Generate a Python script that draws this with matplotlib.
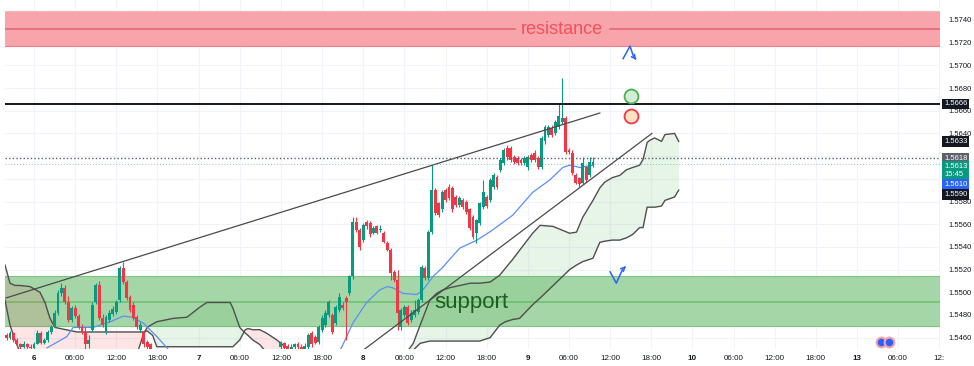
import numpy as np
import matplotlib.pyplot as plt
import matplotlib.transforms as mtransforms

plt.rcParams['font.family'] = ['Liberation Sans', 'DejaVu Sans']

nan = np.nan

# 30 min candles, hours counted from day 6 00:00 (weekend removed from the axis)
candle_t = np.arange(-4.0, 82.0, 0.5)

# day 6 (t -4 .. 17)
open_a = [1.5462, 1.5460, 1.5464, 1.5458, 1.5454, 1.5452, 1.5454, 1.5452,
          1.5451, 1.5454, 1.5464, 1.5455, 1.5458, 1.5465, 1.5469, 1.5482,
          1.5499, 1.5504, 1.5491, 1.5476, 1.5486, 1.5479, 1.5469, 1.5465,
          1.5454, 1.5467, 1.5491, 1.5506, 1.5477, 1.5465, 1.5476, 1.5481,
          1.5483, 1.5493, 1.5521, 1.5509, 1.5496, 1.5489, 1.5478, 1.5467,
          1.5465, 1.5456, 1.5454]
high_a = [1.5464, 1.5466, 1.5465, 1.5460, 1.5455, 1.5457, 1.5455, 1.5454,
          1.5456, 1.5467, 1.5466, 1.5460, 1.5467, 1.5471, 1.5484, 1.5502,
          1.5508, 1.5506, 1.5497, 1.5488, 1.5489, 1.5481, 1.5472, 1.5469,
          1.5462, 1.5491, 1.5508, 1.5510, 1.5481, 1.5480, 1.5484, 1.5488,
          1.5493, 1.5523, 1.5527, 1.5511, 1.5498, 1.5491, 1.5480, 1.5474,
          1.5467, 1.5458, 1.5455]
low_a = [1.5458, 1.5459, 1.5456, 1.5452, 1.5449, 1.5451, 1.5450, 1.5449,
         1.5450, 1.5454, 1.5454, 1.5454, 1.5456, 1.5463, 1.5469, 1.5480,
         1.5497, 1.5490, 1.5474, 1.5474, 1.5477, 1.5468, 1.5463, 1.5449,
         1.5451, 1.5465, 1.5490, 1.5476, 1.5469, 1.5463, 1.5474, 1.5479,
         1.5481, 1.5491, 1.5507, 1.5493, 1.5483, 1.5476, 1.5468, 1.5465,
         1.5452, 1.5449, 1.5446]
close_a = [1.5460, 1.5464, 1.5458, 1.5454, 1.5452, 1.5454, 1.5452, 1.5451,
           1.5454, 1.5464, 1.5455, 1.5458, 1.5465, 1.5469, 1.5482, 1.5499,
           1.5504, 1.5491, 1.5476, 1.5486, 1.5479, 1.5469, 1.5465, 1.5454,
           1.5458, 1.5489, 1.5506, 1.5477, 1.5471, 1.5478, 1.5482, 1.5485,
           1.5491, 1.5521, 1.5509, 1.5495, 1.5484, 1.5477, 1.5469, 1.5471,
           1.5454, 1.5452, 1.5449]

# day 7 trades below the visible range (t 17.5 .. 35.5)
gap = [nan] * 37

# late day 7 to day 9 (t 36 .. 81.5)
open_c = [1.5452, 1.5455, 1.5453, 1.5450, 1.5452, 1.5454, 1.5452, 1.5450,
          1.5452, 1.5464, 1.5461, 1.5456, 1.5467, 1.5471, 1.5480, 1.5480,
          1.5473, 1.5484, 1.5489, 1.5495, 1.5499, 1.5514, 1.5562, 1.5555,
          1.5546, 1.5562, 1.5561, 1.5552, 1.5558, 1.5555, 1.5552, 1.5543,
          1.5537, 1.5518, 1.5511, 1.5469, 1.5480, 1.5487, 1.5476, 1.5480,
          1.5483, 1.5493, 1.5521, 1.5513, 1.5553, 1.5590, 1.5579, 1.5573,
          1.5590, 1.5593, 1.5592, 1.5584, 1.5577, 1.5581, 1.5580, 1.5573,
          1.5566, 1.5552, 1.5561, 1.5575, 1.5584, 1.5581, 1.5593, 1.5602,
          1.5608, 1.5614, 1.5627, 1.5627, 1.5619, 1.5618, 1.5617, 1.5614,
          1.5610, 1.5621, 1.5623, 1.5618, 1.5610, 1.5633, 1.5639, 1.5645,
          1.5640, 1.5646, 1.5650, 1.5654, 1.5625, 1.5623, 1.5603, 1.5601,
          1.5596, 1.5610, 1.5603, 1.5612]
high_c = [1.5457, 1.5456, 1.5454, 1.5454, 1.5455, 1.5456, 1.5454, 1.5455,
          1.5464, 1.5466, 1.5462, 1.5471, 1.5480, 1.5484, 1.5493, 1.5482,
          1.5489, 1.5499, 1.5491, 1.5497, 1.5515, 1.5566, 1.5566, 1.5557,
          1.5561, 1.5564, 1.5563, 1.5558, 1.5559, 1.5559, 1.5554, 1.5545,
          1.5539, 1.5520, 1.5520, 1.5486, 1.5489, 1.5489, 1.5484, 1.5493,
          1.5495, 1.5524, 1.5523, 1.5555, 1.5612, 1.5592, 1.5580, 1.5590,
          1.5592, 1.5595, 1.5594, 1.5586, 1.5585, 1.5583, 1.5581, 1.5574,
          1.5568, 1.5565, 1.5580, 1.5599, 1.5586, 1.5601, 1.5605, 1.5603,
          1.5618, 1.5627, 1.5630, 1.5629, 1.5621, 1.5620, 1.5618, 1.5620,
          1.5621, 1.5623, 1.5625, 1.5620, 1.5638, 1.5647, 1.5647, 1.5647,
          1.5652, 1.5667, 1.5689, 1.5655, 1.5627, 1.5625, 1.5605, 1.5602,
          1.5619, 1.5611, 1.5619, 1.5619]
low_c = [1.5450, 1.5449, 1.5447, 1.5448, 1.5450, 1.5449, 1.5447, 1.5448,
         1.5450, 1.5452, 1.5454, 1.5454, 1.5465, 1.5469, 1.5478, 1.5463,
         1.5471, 1.5483, 1.5484, 1.5458, 1.5498, 1.5512, 1.5553, 1.5537,
         1.5544, 1.5556, 1.5549, 1.5551, 1.5551, 1.5553, 1.5543, 1.5536,
         1.5511, 1.5509, 1.5467, 1.5467, 1.5478, 1.5471, 1.5474, 1.5478,
         1.5481, 1.5491, 1.5511, 1.5511, 1.5551, 1.5568, 1.5566, 1.5571,
         1.5580, 1.5581, 1.5571, 1.5575, 1.5575, 1.5573, 1.5569, 1.5555,
         1.5547, 1.5543, 1.5559, 1.5573, 1.5574, 1.5580, 1.5591, 1.5591,
         1.5606, 1.5612, 1.5617, 1.5615, 1.5613, 1.5612, 1.5612, 1.5612,
         1.5608, 1.5615, 1.5615, 1.5609, 1.5609, 1.5631, 1.5637, 1.5637,
         1.5639, 1.5644, 1.5648, 1.5622, 1.5622, 1.5603, 1.5595, 1.5593,
         1.5595, 1.5597, 1.5602, 1.5610]
close_c = [1.5455, 1.5451, 1.5449, 1.5452, 1.5454, 1.5452, 1.5450, 1.5453,
           1.5462, 1.5454, 1.5455, 1.5469, 1.5477, 1.5482, 1.5491, 1.5465,
           1.5487, 1.5496, 1.5486, 1.5491, 1.5514, 1.5562, 1.5555, 1.5540,
           1.5559, 1.5558, 1.5551, 1.5557, 1.5552, 1.5556, 1.5544, 1.5537,
           1.5517, 1.5511, 1.5482, 1.5484, 1.5487, 1.5473, 1.5482, 1.5484,
           1.5493, 1.5522, 1.5513, 1.5553, 1.5590, 1.5570, 1.5568, 1.5588,
           1.5581, 1.5583, 1.5573, 1.5577, 1.5583, 1.5575, 1.5571, 1.5557,
           1.5549, 1.5564, 1.5579, 1.5588, 1.5576, 1.5599, 1.5603, 1.5593,
           1.5617, 1.5625, 1.5619, 1.5617, 1.5615, 1.5614, 1.5614, 1.5618,
           1.5619, 1.5617, 1.5617, 1.5610, 1.5636, 1.5646, 1.5646, 1.5639,
           1.5650, 1.5655, 1.5654, 1.5624, 1.5624, 1.5605, 1.5596, 1.5595,
           1.5614, 1.5599, 1.5615, 1.5615]

opens = np.array(open_a + gap + open_c)
highs = np.array(high_a + gap + high_c)
lows = np.array(low_a + gap + low_c)
closes = np.array(close_a + gap + close_c)

# blue moving average
ma_t = [1.9, 4.8, 5.7, 8.6, 11.1, 13.0, 14.3, 15.9, 17.9, 19.4, 21.0, 43.5,
        44.9, 46.5, 48.5, 50.4, 51.5, 52.3, 53.8, 55.8, 56.7, 58.2, 59.6, 60.6,
        62.1, 64.6, 66.9, 69.8, 72.7, 75.2, 77.1, 78.1, 79.6, 81.5]
ma_p = [1.5451, 1.5461, 1.5469, 1.5469, 1.5474, 1.5479, 1.5478, 1.5473,
        1.5461, 1.5451, 1.5438, 1.5438, 1.5452, 1.5473, 1.5491, 1.5502,
        1.5505, 1.5504, 1.5499, 1.5498, 1.5502, 1.5514, 1.5522, 1.5529,
        1.5539, 1.5546, 1.5555, 1.5568, 1.5588, 1.5599, 1.5610, 1.5612,
        1.5610, 1.5612]

# ichimoku cloud, left part
lc_t = [-4.23, -3.5, -2.77, -2.04, -0.58, 0.87, 1.6, 2.33, 3.06, 6.27, 14.0,
        15.0, 15.9, 16.5, 17.3, 17.9, 20.3, 22.3, 24.2, 25.2, 28.6, 29.0,
        30.0, 30.8, 31.2, 31.9, 32.9, 33.9, 35.4, 36.6]
lc_a = [1.5493, 1.5471, 1.5458, 1.5447, 1.5440, 1.5436, 1.5436, 1.5436,
        1.5436, 1.5436, 1.5436, 1.5445, 1.5462, 1.5469, 1.5472, 1.5474,
        1.5477, 1.5478, 1.5487, 1.5491, 1.5491, 1.5486, 1.5469, 1.5464,
        1.5462, 1.5458, 1.5454, 1.5447, 1.5440, 1.5436]
lc_b = [1.5524, 1.5508, 1.5506, 1.5506, 1.5505, 1.5500, 1.5491, 1.5477,
        1.5469, 1.5465, 1.5465, 1.5465, 1.5465, 1.5466, 1.5462, 1.5452,
        1.5452, 1.5452, 1.5452, 1.5452, 1.5452, 1.5452, 1.5458, 1.5467,
        1.5468, 1.5467, 1.5467, 1.5464, 1.5458, 1.5452]

# ichimoku cloud, right part
rc_t = [54.1, 55.3, 56.3, 57.7, 58.7, 59.6, 60.6, 62.1, 63.6, 65.0,
        66.5, 67.9, 68.7, 69.8, 70.8, 72.7, 73.8, 75.7, 78.1, 79.1,
        80.0, 81.5, 82.5, 83.2, 84.3, 85.4, 86.4, 87.3, 88.3, 88.8,
        89.4, 89.8, 90.5, 91.5, 92.0, 93.4, 94.0]
rc_a = [1.5445, 1.5455, 1.5471, 1.5493, 1.5499, 1.5502, 1.5504, 1.5506, 1.5508, 1.5508,
        1.5509, 1.5515, 1.5521, 1.5529, 1.5537, 1.5552, 1.5559, 1.5558, 1.5552, 1.5553,
        1.5566, 1.5581, 1.5592, 1.5597, 1.5601, 1.5603, 1.5608, 1.5610, 1.5612, 1.5617,
        1.5632, 1.5634, 1.5636, 1.5633, 1.5639, 1.5640, 1.5633]
rc_b = [1.5440, 1.5449, 1.5455, 1.5457, 1.5457, 1.5457, 1.5457, 1.5457, 1.5457, 1.5457,
        1.5460, 1.5471, 1.5474, 1.5476, 1.5477, 1.5489, 1.5495, 1.5506, 1.5520, 1.5524,
        1.5527, 1.5530, 1.5544, 1.5545, 1.5546, 1.5546, 1.5548, 1.5551, 1.5557, 1.5557,
        1.5575, 1.5575, 1.5575, 1.5576, 1.5581, 1.5584, 1.5590]

# trend lines (t, price)
upper_trend = ([-4.08, 82.5], [1.5495, 1.5658])
lower_trend = ([48.0, 90.1], [1.5449, 1.5640])

resistance = (1.5717, 1.5748, 1.5732)
support = (1.5470, 1.5514, 1.5491)
level_line = 1.5666
last_close_line = 1.5618
current_line = 1.5613

# price axis
price_ticks = [1.5460, 1.5480, 1.5500, 1.5520, 1.5540, 1.5560, 1.5580, 1.5600,
               1.5620, 1.5640, 1.5660, 1.5680, 1.5700, 1.5720, 1.5740]
hidden_ticks = [1.5600, 1.5620]   # covered by the price tags
time_ticks = [0, 6, 12, 18, 24, 30, 36, 42, 48, 54, 60, 66, 72, 78, 84, 90,
              96, 102, 108, 114, 120, 126, 132]
time_labels = ['6', '06:00', '12:00', '18:00', '7', '06:00', '12:00', '18:00',
               '8', '06:00', '12:00', '18:00', '9', '06:00', '12:00', '18:00',
               '10', '06:00', '12:00', '18:00', '13', '06:00', '12:']
# price tags on the scale: text, placement, colour
tags = [('1.5666', 1.5666, '#131722'), ('1.5633', 1.5633, '#131722'),
        ('1.5618', 1.5618, '#5d606b'), ('1.5613\n15:45', 1.56075, '#089981'),
        ('1.5610', 1.5595, '#2962ff'), ('1.5590', 1.5586, '#131722')]

UP = '#089981'
DOWN = '#f23645'

fig = plt.figure(figsize=(9.74, 3.66), dpi=100)
ax = fig.add_axes([5 / 974, 17 / 366, 935 / 974, 349 / 366])
ax.set_xlim(-4.23, 132.1)
ax.set_ylim(1.5450, 1.57576)

ax.set_axisbelow(True)
ax.grid(color='#f0f3fa', lw=0.8)
for s in ax.spines.values():
    s.set_visible(False)

# zones
ax.axhspan(resistance[0], resistance[1], color='#f7a4ab', lw=0, zorder=1)
ax.axhline(resistance[0], color='#f07e88', lw=0.8, zorder=1.1)
ax.axhline(resistance[1], color='#f7b7bc', lw=0.8, zorder=1.1)
ax.plot([-4.23, 70.1], [resistance[2]] * 2, color='#e0646e', lw=1.1, zorder=1.2)
ax.plot([84.0, 132.1], [resistance[2]] * 2, color='#e0646e', lw=1.1, zorder=1.2)
ax.text(76.9, resistance[2], 'resistance', color='#f5505e', fontsize=13,
        ha='center', va='center', zorder=6)

ax.axhspan(support[0], support[1], color='#a5d6a7', lw=0, zorder=1)
ax.axhline(support[0], color='#7dc481', lw=0.8, zorder=1.1)
ax.axhline(support[1], color='#7dc481', lw=0.8, zorder=1.1)
ax.axhline(support[2], color='#6cbf70', lw=1.1, zorder=1.2)

# ichimoku cloud
for ct, ca, cb in [(lc_t, lc_a, lc_b), (rc_t, rc_a, rc_b)]:
    ca = np.array(ca)
    cb = np.array(cb)
    ax.fill_between(ct, ca, cb, where=ca >= cb, interpolate=True,
                    color='#4caf50', alpha=0.13, lw=0, zorder=2)
    ax.fill_between(ct, ca, cb, where=ca < cb, interpolate=True,
                    color='#f23645', alpha=0.13, lw=0, zorder=2)
    ax.plot(ct, ca, color='#4f4f4f', lw=1, zorder=2.5)
    ax.plot(ct, cb, color='#4f4f4f', lw=1, zorder=2.5)

# moving average
ax.plot(ma_t, ma_p, color='#5b8ff5', lw=0.9, zorder=3)

# candles
ok = ~np.isnan(opens)
t = candle_t[ok]
o, h, l, c = opens[ok], highs[ok], lows[ok], closes[ok]
cols = np.where(c >= o, UP, DOWN)
ax.vlines(t, l, h, colors=cols, lw=0.8, zorder=4)
body = np.maximum(np.abs(c - o), 0.00004)
ax.bar(t, body, bottom=np.minimum(o, c), width=0.42, color=cols, lw=0, zorder=5)

# trend lines and levels
ax.plot(*upper_trend, color='#4a4a4a', lw=0.9, zorder=6)
ax.plot(*lower_trend, color='#4a4a4a', lw=0.9, zorder=6)
ax.axhline(level_line, color='#131722', lw=1.4, zorder=6)
ax.axhline(last_close_line, color='#5d606b', lw=1, ls=(0, (1, 1.6)), zorder=6)
ax.axhline(current_line, color='#089981', lw=0.7, ls=(0, (1, 2)), alpha=0.5, zorder=6)

# target circles
ax.plot(87.0, 1.5673, 'o', ms=10, mfc='#d4ecd5', mec='#4caf50', mew=1.3, zorder=7)
ax.plot(87.0, 1.5655, 'o', ms=10, mfc='#fde3c3', mec='#f23645', mew=1.3, zorder=7)

# hand drawn arrows
ax.plot([85.9, 86.9, 87.4], [1.5706, 1.5717, 1.5708], color='#2962ff', lw=1.1, zorder=7)
ax.annotate('', xy=(88.1, 1.5703), xytext=(87.4, 1.5708),
            arrowprops=dict(arrowstyle='->', color='#2962ff', lw=1.1,
                            mutation_scale=7), zorder=7)
ax.plot([84.0, 84.9, 85.8], [1.5518, 1.5508, 1.5520], color='#2962ff', lw=1.1, zorder=7)
ax.annotate('', xy=(86.3, 1.5523), xytext=(85.8, 1.5520),
            arrowprops=dict(arrowstyle='->', color='#2962ff', lw=1.1,
                            mutation_scale=7), zorder=7)

ax.text(63.8, support[2], 'support', color='#1b5e20', fontsize=16,
        ha='center', va='center', zorder=8)

# event icons
ax.plot([123.5, 124.6], [1.5456, 1.5456], 'o', ms=7, mfc='#2962ff', mec='#f7a1a8',
        mew=1.5, ls='none', zorder=7)

# axes labels
ax.set_xticks(time_ticks)
ax.set_xticklabels(time_labels)
for lab in ax.get_xticklabels():
    if ':' not in lab.get_text():
        lab.set_fontweight('bold')
ax.tick_params(axis='x', length=0, pad=4, labelsize=5.8, colors='#131722')
ax.yaxis.tick_right()
ax.set_yticks(price_ticks)
ax.set_yticklabels(['' if p in hidden_ticks else '%.4f' % p for p in price_ticks])
ax.tick_params(axis='y', length=0, pad=6, labelsize=5.5, colors='#131722')

trans = mtransforms.blended_transform_factory(ax.transAxes, ax.transData)
for txt, pos, bg in tags:
    ax.text(1.0045, pos, txt, transform=trans, ha='left', va='center',
            fontsize=5.5, color='white', clip_on=False, zorder=20,
            bbox=dict(boxstyle='square,pad=0.25', fc=bg, ec='none'))

fig.savefig('out.png', dpi=100)
